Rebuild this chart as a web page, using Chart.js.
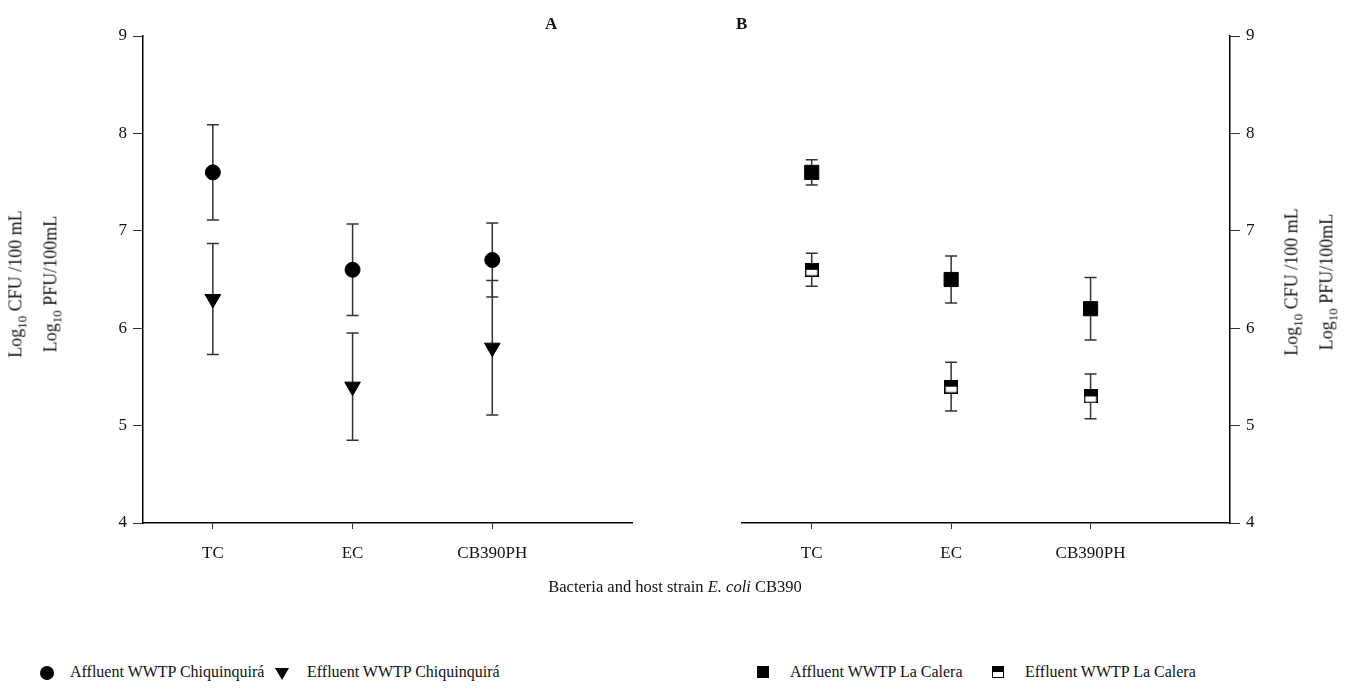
<!DOCTYPE html>
<html>
<head>
<meta charset="utf-8">
<script src="https://cdn.jsdelivr.net/npm/chart.js@4.4.0/dist/chart.umd.min.js"></script>
<style>
    body { margin: 0; background: #fff; width: 1350px; height: 693px; overflow: hidden; position: relative; font-family: 'Liberation Serif', serif; color: #111; }
    canvas { position: absolute; top: 0; }
    #chartA { left: 0; }
    #chartB { left: 700px; }
    .ytitle { position: absolute; font-size: 18px; white-space: nowrap; line-height: 29px; text-align: center; transform: translate(-50%, -50%) rotate(-90deg); }
    .ytitle sub { font-size: 13px; }
    .panel { position: absolute; top: 14px; font-size: 17px; font-weight: bold; }
    #xtitle { position: absolute; top: 577px; left: 0; width: 1350px; text-align: center; font-size: 16.5px; }
    #legend { position: absolute; top: 663px; left: 0; width: 1350px; font-size: 16px; }
    .item { position: absolute; white-space: nowrap; }
    .mk { position: absolute; top: 3px; }
</style>
</head>
<body>
<canvas id="chartA" width="650" height="600"></canvas>
<canvas id="chartB" width="650" height="600"></canvas>

<div class="panel" style="left:545px">A</div>
<div class="panel" style="left:736px">B</div>

<div class="ytitle" style="left:36px; top:284px">Log<sub>10</sub> CFU /100 mL<br>Log<sub>10</sub> PFU/100mL</div>
<div class="ytitle" style="left:1312px; top:282px">Log<sub>10</sub> CFU /100 mL<br>Log<sub>10</sub> PFU/100mL</div>

<div id="xtitle">Bacteria and host strain <i>E. coli</i> CB390</div>

<div id="legend">
    <div class="item" style="left:40px"><span class="mk" style="left:0; width:14px; height:14px; border-radius:50%; background:#000"></span><span style="margin-left:30px">Affluent WWTP Chiquinquirá</span></div>
    <div class="item" style="left:275px"><span class="mk" style="left:0; top:5px; width:0; height:0; border-left:7px solid transparent; border-right:7px solid transparent; border-top:12px solid #000"></span><span style="margin-left:32px">Effluent WWTP Chiquinquirá</span></div>
    <div class="item" style="left:757px"><span class="mk" style="left:0; width:12px; height:12px; background:#000"></span><span style="margin-left:33px">Affluent WWTP La Calera</span></div>
    <div class="item" style="left:992px"><span class="mk" style="left:0; width:10px; height:10px; border:1px solid #000; background:linear-gradient(#000 50%, #fff 50%)"></span><span style="margin-left:33px">Effluent WWTP La Calera</span></div>
</div>

<script>
// Data
const categories = ['TC', 'EC', 'CB390PH'];
const catPos = [1, 2, 3];

// Panel A - WWTP Chiquinquirá
const affluentChiq = [7.6, 6.6, 6.7];
const affluentChiqErr = [0.49, 0.47, 0.38];
const effluentChiq = [6.3, 5.4, 5.8];
const effluentChiqErr = [0.57, 0.55, 0.69];

// Panel B - WWTP La Calera
const affluentCalera = [7.6, 6.5, 6.2];
const affluentCaleraErr = [0.13, 0.24, 0.32];
const effluentCalera = [6.6, 5.4, 5.3];
const effluentCaleraErr = [0.17, 0.25, 0.23];

const yTicks = [4, 5, 6, 7, 8, 9];
const tickFont = { family: 'Liberation Serif', size: 17 };

// half filled square marker
const halfSquare = document.createElement('canvas');
halfSquare.width = 14;
halfSquare.height = 14;
(() => {
    const c = halfSquare.getContext('2d');
    c.fillStyle = '#fff';
    c.fillRect(0, 0, 14, 14);
    c.fillStyle = '#000';
    c.fillRect(0, 0, 14, 7);
    c.strokeStyle = '#000';
    c.lineWidth = 1.5;
    c.strokeRect(0.75, 0.75, 12.5, 12.5);
})();

const toPoints = (vals) => vals.map((v, i) => ({ x: catPos[i], y: v }));

// error bars drawn through the chart scales
const errorBars = {
    id: 'errorBars',
    beforeDatasetsDraw(chart) {
        const ctx = chart.ctx;
        const xs = chart.scales.x;
        const ys = chart.scales.y;
        ctx.save();
        ctx.strokeStyle = '#333';
        ctx.lineWidth = 1.5;
        chart.data.datasets.forEach(ds => {
            ds.data.forEach((p, i) => {
                const e = ds.errors[i];
                const px = xs.getPixelForValue(p.x);
                const top = ys.getPixelForValue(p.y + e);
                const bot = ys.getPixelForValue(p.y - e);
                ctx.beginPath();
                ctx.moveTo(px, top);
                ctx.lineTo(px, bot);
                ctx.moveTo(px - 6, top);
                ctx.lineTo(px + 6, top);
                ctx.moveTo(px - 6, bot);
                ctx.lineTo(px + 6, bot);
                ctx.stroke();
            });
        });
        ctx.restore();
    }
};

function makeOptions(yPosition, yWidth, padding) {
    return {
        responsive: false,
        animation: false,
        layout: { padding: padding },
        plugins: { legend: { display: false }, tooltip: { enabled: false } },
        scales: {
            x: {
                type: 'linear',
                min: 0.5,
                max: 4,
                afterBuildTicks: (scale) => { scale.ticks = catPos.map(v => ({ value: v })); },
                afterFit: (scale) => { scale.height = 77; },
                border: { color: '#000', width: 1.5 },
                grid: { drawOnChartArea: false, tickLength: 6, color: '#333', tickWidth: 1 },
                ticks: {
                    font: tickFont,
                    color: '#111',
                    padding: 14,
                    maxRotation: 0,
                    callback: (v) => categories[catPos.indexOf(v)]
                }
            },
            y: {
                position: yPosition,
                min: 4,
                max: 9,
                afterBuildTicks: (scale) => { scale.ticks = yTicks.map(v => ({ value: v })); },
                afterFit: (scale) => { scale.width = yWidth; },
                border: { color: '#000', width: 1.5 },
                grid: { drawOnChartArea: false, tickLength: 10, color: '#333', tickWidth: 1 },
                ticks: { font: tickFont, color: '#111', padding: 6 }
            }
        }
    };
}

new Chart(document.getElementById('chartA'), {
    type: 'scatter',
    data: {
        datasets: [
            {
                label: 'Affluent WWTP Chiquinquirá',
                data: toPoints(affluentChiq),
                errors: affluentChiqErr,
                pointStyle: 'circle',
                pointRadius: 7.5,
                backgroundColor: '#000',
                borderColor: '#000'
            },
            {
                label: 'Effluent WWTP Chiquinquirá',
                data: toPoints(effluentChiq),
                errors: effluentChiqErr,
                pointStyle: 'triangle',
                rotation: 180,
                pointRadius: 9,
                backgroundColor: '#000',
                borderColor: '#000'
            }
        ]
    },
    options: makeOptions('left', 143, { top: 36, right: 18, bottom: 0, left: 0 }),
    plugins: [errorBars]
});

new Chart(document.getElementById('chartB'), {
    type: 'scatter',
    data: {
        datasets: [
            {
                label: 'Affluent WWTP La Calera',
                data: toPoints(affluentCalera),
                errors: affluentCaleraErr,
                pointStyle: 'rect',
                pointRadius: 10,
                backgroundColor: '#000',
                borderColor: '#000'
            },
            {
                label: 'Effluent WWTP La Calera',
                data: toPoints(effluentCalera),
                errors: effluentCaleraErr,
                pointStyle: halfSquare,
                pointRadius: 7,
                backgroundColor: '#000',
                borderColor: '#000'
            }
        ]
    },
    options: makeOptions('right', 120, { top: 36, right: 0, bottom: 0, left: 42 }),
    plugins: [errorBars]
});
</script>
</body>
</html>
